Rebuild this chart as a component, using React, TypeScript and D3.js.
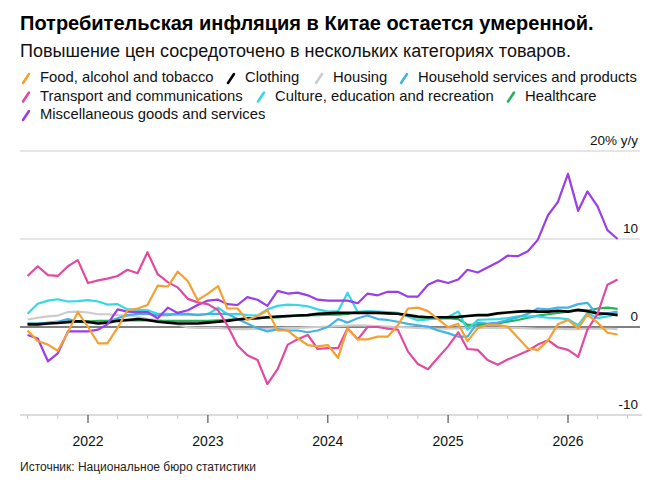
import React from "react";
import * as d3 from "d3";

const months: Date[] = d3.timeMonth.range(new Date(2021, 6, 1), new Date(2026, 6, 1));

const food = [-0.4, -1.6, -2.0, -2.7, -0.6, 1.7, 0.0, -1.85, -1.85, -0.1, 1.9, 2.1, 2.5, 4.7, 4.6, 6.3, 5.2, 3.05, 3.8, 4.65, 2.1, 2.1,
  0.8, 1.25, 1.9, -0.4, -0.4, -1.3, -2.05, -2.2, -2.05, -3.5, -0.15, -1.4, -1.4, -1.1, -1.1, 0.2, 2.1, 2.2, 1.8, 0.9,
  0, 0.35, -1.6, -0.15, 0.25, 0.25, 0.05, -1.2, -2.45, -2.6, -1.55, 0.3, 0.8, -0.15, 1.4, 0.5, -0.65, -0.85];
const clothing = [0.3, 0.3, 0.4, 0.45, 0.55, 0.65, 0.6, 0.4, 0.5, 0.7, 0.8, 0.9, 0.8, 0.6, 0.5, 0.4, 0.4, 0.4, 0.5, 0.6, 0.7, 0.85,
  0.95, 1.0, 1.1, 1.2, 1.25, 1.3, 1.35, 1.5, 1.55, 1.6, 1.6, 1.6, 1.6, 1.6, 1.55, 1.5, 1.35, 1.2, 1.1, 1.1,
  1.1, 1.15, 1.25, 1.35, 1.35, 1.55, 1.65, 1.75, 1.8, 1.75, 1.75, 1.85, 1.75, 1.95, 1.8, 1.55, 1.5, 1.35];
const housing = [0.85, 1.05, 1.2, 1.3, 1.7, 1.75, 1.65, 1.45, 1.45, 1.35, 1.3, 1.2, 0.9, 0.8, 0.6, 0.3, -0.05, -0.1, -0.1, -0.1, -0.2, -0.25,
  -0.25, -0.2, -0.2, -0.15, -0.1, -0.1, -0.05, 0, 0.05, 0.1, 0.15, 0.2, 0.15, 0.1, 0.05, 0, -0.05, -0.1, -0.15, -0.2,
  -0.2, -0.15, -0.1, -0.1, -0.1, -0.1, -0.1, -0.1, -0.15, -0.2, -0.2, -0.2, -0.25, -0.25, -0.2, -0.2, -0.2, -0.25];
const household = [0.4, 0.4, 0.5, 0.6, 0.9, 0.6, 0.5, 0.4, 0.6, 1.0, 1.35, 1.5, 1.5, 1.35, 1.35, 1.5, 1.5, 1.35, 1.5, 1.5, 1.5, 0.9,
  0.4, -0.15, -0.5, -0.25, -0.4, -0.4, -0.6, -0.4, 0, 0.9, 0.5, 1.0, 1.3, 0.9, 0.8, 0.6, 0.35, 0.2, 0.05, -0.4,
  -0.7, -1.1, -1.1, 0.5, 0.4, 0.5, 0.8, 1.1, 1.5, 2.1, 2.0, 2.2, 2.2, 2.6, 2.75, 1.35, 1.55, 1.75];
const transport = [5.8, 6.9, 5.9, 5.8, 6.9, 7.6, 5.0, 5.3, 5.5, 5.8, 6.5, 6.1, 8.5, 6.0, 5.1, 4.5, 3.2, 2.8, 2.6, 1.9, 0.2, -2.1,
  -3.2, -3.75, -6.5, -4.8, -2.0, -1.4, -0.9, -2.5, -2.4, -2.4, -0.15, -1.4, 0, 0, -0.2, -0.3, -2.8, -4.2, -4.8, -3.5,
  -2.2, -0.6, -2.5, -2.6, -3.75, -4.3, -3.7, -3.2, -2.7, -2.0, -1.5, -2.3, -2.6, -3.4, -0.3, 1.5, 4.8, 5.4];
const culture = [1.5, 2.65, 3.0, 3.15, 2.9, 2.95, 3.05, 2.9, 2.55, 2.6, 2.0, 1.95, 1.9, 1.5, 1.5, 1.4, 1.4, 1.4, 1.45, 2.2, 1.45, 1.5,
  1.35, 1.3, 2.0, 2.4, 2.55, 2.5, 2.35, 2.0, 1.75, 1.8, 3.9, 1.7, 1.8, 1.75, 1.7, 1.6, 1.2, 0.75, 0.85, 1.05,
  1.15, 1.75, -0.3, 0.8, 0.85, 0.9, 1.0, 1.2, 1.2, 1.2, 1.05, 1.0, 0.9, 0.2, 1.6, 1.0, 1.2, 1.5];
const healthcare = [0.4, 0.4, 0.45, 0.5, 0.6, 0.65, 0.6, 0.7, 0.7, 0.75, 0.75, 0.75, 0.75, 0.7, 0.7, 0.7, 0.7, 0.7, 0.7, 0.75, 0.8, 0.9,
  0.95, 1.0, 1.05, 1.1, 1.2, 1.3, 1.35, 1.35, 1.4, 1.4, 1.5, 1.7, 1.75, 1.7, 1.6, 1.5, 1.3, 1.1, 1.0, 0.95,
  1.0, 0.9, 0.25, 0.25, 0.3, 0.4, 0.6, 0.8, 1.05, 1.3, 1.45, 1.6, 1.75, 1.85, 1.85, 2.1, 2.2, 2.05];
const misc = [-0.9, -1.3, -3.9, -3.0, -0.5, -0.5, -0.5, -0.3, 0.3, 2.0, 1.75, 1.7, 1.7, 1.0, 2.2, 1.6, 1.9, 2.5, 3.0, 3.1, 2.6, 2.5,
  3.4, 3.1, 2.4, 4.1, 3.8, 3.9, 3.6, 3.1, 3.0, 3.0, 3.0, 2.7, 3.8, 3.6, 4.0, 4.0, 3.45, 3.45, 4.8, 5.3,
  5.0, 5.4, 6.5, 6.2, 6.75, 7.35, 8.1, 8.05, 8.6, 9.9, 12.7, 14.2, 17.4, 13.2, 15.4, 13.7, 11.0, 10.0];

const seriesNames = [
  "Food, alcohol and tobacco", "Clothing", "Housing", "Household services and products",
  "Transport and communications", "Culture, education and recreation", "Healthcare",
  "Miscellaneous goods and services",
];
const seriesValues = [food, clothing, housing, household, transport, culture, healthcare, misc];
const seriesColors = ["#f5a033", "#000000", "#cccccc", "#43b3e6", "#e24aa0", "#35d8e3", "#23b457", "#9a3fe8"];
const drawOrder = [2, 6, 5, 3, 1, 7, 4, 0];

const yTicks = [20, 10, 0, -10];
const yearTicks = [2022, 2023, 2024, 2025, 2026];

const title = "Потребительская инфляция в Китае остается умеренной.";
const subtitle = "Повышение цен сосредоточено в нескольких категориях товаров.";
const source = "Источник: Национальное бюро статистики";

const legendRows = [[0, 1, 2, 3], [4, 5, 6], [7]];

const FONT = "'Liberation Sans', Arial, Helvetica, sans-serif";

export default function App() {
  const W = 669, H = 489;
  const left = 20, right = 640;
  const x = d3.scaleTime().domain([new Date(2022, 0, 1), new Date(2026, 0, 1)]).range([88, 568]);
  const y = d3.scaleLinear().domain([-10, 20]).range([415, 151]);
  const line = d3.line<number>().x((_, i) => x(months[i])).y((d) => y(d));

  const quarters = d3.timeMonth.every(3)!.range(new Date(2021, 6, 1), new Date(2026, 6, 2));

  const legendTextX = [[40, 245, 333, 418], [40, 275, 525], [40]];
  const legendItems: { idx: number; x: number; y: number }[] = [];
  legendRows.forEach((row, r) => {
    row.forEach((idx, k) => {
      legendItems.push({ idx, x: legendTextX[r][k], y: 82 + r * 18.5 });
    });
  });

  return (
    <svg width={W} height={H} style={{ position: "absolute", left: 0, top: 0, background: "#fff" }} fontFamily={FONT}>
      <rect width={W} height={H} fill="#fff" />
      <text x={20} y={30} fontSize={20} fontWeight="bold" fill="#000">{title}</text>
      <text x={20} y={57} fontSize={18} fill="#111">{subtitle}</text>
      {legendItems.map((it) => (
        <g key={it.idx}>
          <line x1={it.x - 17} y1={it.y + 1} x2={it.x - 11} y2={it.y - 8} stroke={seriesColors[it.idx]} strokeWidth={2.6} strokeLinecap="round" />
          <text x={it.x} y={it.y} fontSize={14.8} fill="#111">{seriesNames[it.idx]}</text>
        </g>
      ))}
      {yTicks.filter((t) => t > 0).map((t) => (
        <line key={t} x1={left} x2={right} y1={y(t)} y2={y(t)} stroke="#dcdcdc" strokeWidth={1.5} />
      ))}
      {yTicks.map((t) => (
        <text key={t} x={638} y={y(t) - 6} fontSize={13.5} textAnchor="end" fill="#111">
          {t === 20 ? "20% y/y" : String(t)}
        </text>
      ))}
      <line x1={left} x2={642} y1={y(-10)} y2={y(-10)} stroke="#d0d0d0" strokeWidth={1.5} />
      {quarters.map((q, i) => {
        const major = q.getMonth() === 0;
        return (
          <line key={i} x1={x(q)} x2={x(q)} y1={y(-10)} y2={y(-10) + (major ? 8 : 4)} stroke={major ? "#333" : "#c8c8c8"} strokeWidth={1} />
        );
      })}
      {yearTicks.map((yr) => (
        <text key={yr} x={x(new Date(yr, 0, 1))} y={446} fontSize={14} textAnchor="middle" fill="#111">{yr}</text>
      ))}
      <line x1={left} x2={right} y1={y(0)} y2={y(0)} stroke="#000" strokeWidth={1} />
      {drawOrder.map((idx) => (
        <path key={idx} d={line(seriesValues[idx]) || ""} fill="none" stroke={seriesColors[idx]} strokeWidth={idx === 1 ? 2.6 : 2.2} strokeLinejoin="round" />
      ))}
      <text x={20} y={471} fontSize={12} fill="#222">{source}</text>
    </svg>
  );
}
